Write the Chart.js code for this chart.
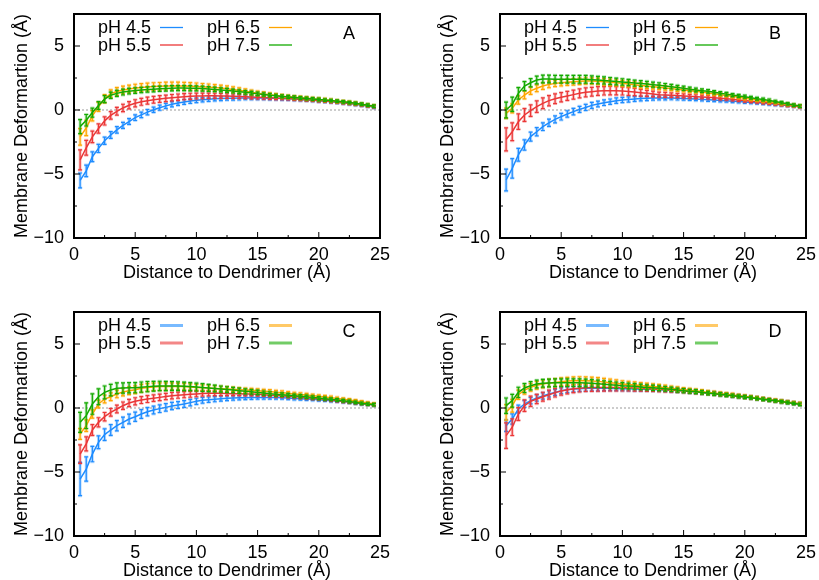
<!DOCTYPE html>
<html>
<head>
<meta charset="utf-8">
<script src="https://cdn.jsdelivr.net/npm/chart.js@4.4.1/dist/chart.umd.min.js"></script>
<style>
  html, body { margin: 0; padding: 0; background: #fff; overflow: hidden; }
  .panel { position: absolute; }
</style>
</head>
<body>
<div class="panel" style="left:0;top:0"><canvas id="chartA" width="393" height="282"></canvas></div>
<div class="panel" style="left:426px;top:0"><canvas id="chartB" width="393" height="282"></canvas></div>
<div class="panel" style="left:0;top:298px"><canvas id="chartC" width="393" height="282"></canvas></div>
<div class="panel" style="left:426px;top:298px"><canvas id="chartD" width="393" height="282"></canvas></div>
<script>
// distance bins (x) and labels
const distance = [0.5,1,1.5,2,2.5,3,3.5,4,4.5,5,
  5.5,6,6.5,7,7.5,8,8.5,9,9.5,10,
  10.5,11,11.5,12,12.5,13,13.5,14,14.5,15,
  15.5,16,16.5,17,17.5,18,18.5,19,19.5,20,
  20.5,21,21.5,22,22.5,23,23.5,24,24.5];
const phLabels = ["pH 4.5", "pH 5.5", "pH 6.5", "pH 7.5"];
const xTicks = [0, 5, 10, 15, 20, 25];
const xMinor = [2.5, 7.5, 12.5, 17.5, 22.5];
const yTicks = [-10, -5, 0, 5];
const yMinor = [-7.5, -2.5, 2.5];

// panel A
const a45 = [-5.5,-4.75,-3.65,-3.0,-2.4,-1.95,-1.55,-1.2,-0.9,-0.6,
  -0.38,-0.17,0.02,0.18,0.32,0.45,0.55,0.63,0.7,0.76,
  0.8,0.84,0.87,0.89,0.91,0.92,0.93,0.94,0.94,0.94,
  0.93,0.92,0.91,0.89,0.87,0.85,0.82,0.79,0.76,0.72,
  0.68,0.64,0.6,0.55,0.5,0.44,0.38,0.31,0.22];
const a55 = [-3.9,-2.95,-2.1,-1.45,-0.85,-0.42,-0.1,0.16,0.37,0.52,
  0.64,0.73,0.8,0.86,0.91,0.96,1.0,1.04,1.07,1.09,
  1.1,1.11,1.11,1.1,1.09,1.08,1.06,1.04,1.02,1.0,
  0.98,0.96,0.94,0.92,0.9,0.87,0.84,0.81,0.78,0.74,
  0.7,0.66,0.62,0.57,0.52,0.46,0.4,0.33,0.26];
const a65 = [-2.1,-1.4,-0.45,0.25,0.88,1.28,1.45,1.56,1.64,1.71,
  1.76,1.8,1.83,1.85,1.87,1.88,1.88,1.87,1.86,1.84,
  1.81,1.78,1.75,1.71,1.66,1.6,1.53,1.46,1.38,1.31,
  1.25,1.19,1.13,1.08,1.03,0.99,0.95,0.91,0.87,0.83,
  0.79,0.74,0.69,0.64,0.58,0.52,0.45,0.38,0.31];
const a75 = [-1.3,-0.8,-0.2,0.35,0.85,1.15,1.3,1.4,1.47,1.52,
  1.56,1.6,1.63,1.66,1.68,1.7,1.71,1.71,1.7,1.69,
  1.67,1.64,1.61,1.57,1.53,1.48,1.43,1.38,1.32,1.26,
  1.21,1.16,1.11,1.06,1.02,0.98,0.94,0.9,0.86,0.82,
  0.78,0.74,0.69,0.64,0.58,0.52,0.45,0.38,0.3];
const a45Err = [0.58,0.45,0.38,0.32,0.28,0.26,0.25,0.24,0.23,0.22,
  0.22,0.21,0.21,0.2,0.2,0.2,0.19,0.19,0.18,0.18,
  0.17,0.17,0.16,0.16,0.15,0.15,0.15,0.14,0.14,0.14,
  0.13,0.13,0.13,0.12,0.12,0.12,0.11,0.11,0.11,0.11,
  0.1,0.1,0.1,0.1,0.1,0.1,0.1,0.1,0.1];
const a55Err = [0.78,0.58,0.45,0.36,0.32,0.3,0.3,0.29,0.28,0.28,
  0.27,0.27,0.26,0.26,0.25,0.25,0.25,0.24,0.24,0.23,
  0.22,0.21,0.2,0.19,0.18,0.17,0.16,0.15,0.15,0.14,
  0.14,0.13,0.13,0.12,0.12,0.12,0.11,0.11,0.11,0.11,
  0.1,0.1,0.1,0.1,0.1,0.1,0.1,0.1,0.1];
const a65Err = [0.65,0.6,0.4,0.35,0.32,0.3,0.3,0.3,0.3,0.3,
  0.3,0.3,0.3,0.3,0.3,0.3,0.3,0.29,0.28,0.27,
  0.26,0.25,0.24,0.23,0.22,0.21,0.2,0.19,0.18,0.17,
  0.16,0.15,0.15,0.14,0.14,0.13,0.13,0.13,0.12,0.12,
  0.12,0.12,0.11,0.11,0.11,0.11,0.1,0.1,0.1];
const a75Err = [0.55,0.45,0.35,0.3,0.27,0.25,0.24,0.23,0.22,0.22,
  0.21,0.21,0.21,0.2,0.2,0.2,0.2,0.2,0.2,0.19,
  0.19,0.18,0.17,0.16,0.16,0.15,0.15,0.14,0.14,0.13,
  0.13,0.13,0.12,0.12,0.12,0.12,0.11,0.11,0.11,0.11,
  0.1,0.1,0.1,0.1,0.1,0.1,0.1,0.1,0.1];

// panel B
const b45 = [-5.47,-4.56,-3.5,-2.73,-2.08,-1.7,-1.3,-1.0,-0.73,-0.52,
  -0.31,-0.13,0.05,0.2,0.36,0.47,0.57,0.65,0.73,0.78,
  0.82,0.86,0.89,0.91,0.93,0.94,0.94,0.94,0.92,0.9,
  0.88,0.86,0.83,0.8,0.78,0.75,0.72,0.69,0.66,0.63,
  0.59,0.56,0.52,0.48,0.44,0.4,0.36,0.31,0.26];
const b55 = [-2.3,-1.7,-0.91,-0.39,-0.05,0.26,0.52,0.73,0.88,1.0,
  1.1,1.2,1.3,1.38,1.43,1.48,1.5,1.51,1.5,1.48,
  1.45,1.4,1.35,1.3,1.25,1.2,1.18,1.16,1.13,1.1,
  1.07,1.04,1.02,1.0,0.96,0.92,0.88,0.84,0.79,0.74,
  0.69,0.64,0.59,0.54,0.48,0.43,0.37,0.32,0.26];
const b65 = [-0.26,0.13,0.78,1.17,1.5,1.7,1.87,2.0,2.08,2.13,
  2.17,2.2,2.24,2.27,2.26,2.24,2.2,2.16,2.12,2.08,
  2.03,1.98,1.92,1.87,1.82,1.77,1.72,1.67,1.62,1.56,
  1.51,1.46,1.4,1.33,1.27,1.2,1.14,1.07,0.99,0.91,
  0.85,0.78,0.72,0.65,0.58,0.5,0.44,0.37,0.31];
const b75 = [0.0,0.45,1.3,1.87,2.13,2.34,2.42,2.42,2.41,2.4,
  2.4,2.4,2.4,2.4,2.37,2.34,2.31,2.27,2.23,2.19,
  2.15,2.1,2.07,2.03,1.98,1.93,1.88,1.82,1.76,1.7,
  1.63,1.56,1.51,1.46,1.38,1.3,1.24,1.17,1.1,1.04,
  0.96,0.88,0.82,0.75,0.66,0.57,0.48,0.39,0.31];
const b45Err = [0.85,0.76,0.5,0.4,0.35,0.32,0.3,0.28,0.27,0.26,
  0.25,0.25,0.24,0.24,0.23,0.22,0.22,0.21,0.21,0.2,
  0.2,0.19,0.18,0.17,0.16,0.15,0.15,0.14,0.14,0.13,
  0.13,0.13,0.12,0.12,0.12,0.12,0.11,0.11,0.11,0.11,
  0.1,0.1,0.1,0.1,0.1,0.1,0.1,0.1,0.1];
const b55Err = [0.9,0.7,0.6,0.5,0.45,0.45,0.42,0.4,0.38,0.36,
  0.35,0.35,0.35,0.35,0.34,0.34,0.33,0.33,0.32,0.31,
  0.3,0.28,0.26,0.24,0.22,0.2,0.19,0.18,0.17,0.16,
  0.15,0.15,0.14,0.14,0.13,0.13,0.12,0.12,0.12,0.12,
  0.11,0.11,0.11,0.11,0.1,0.1,0.1,0.1,0.1];
const b65Err = [0.4,0.35,0.32,0.3,0.28,0.27,0.26,0.26,0.25,0.25,
  0.25,0.25,0.25,0.25,0.25,0.25,0.25,0.25,0.24,0.24,
  0.23,0.22,0.21,0.2,0.19,0.18,0.17,0.16,0.16,0.15,
  0.15,0.14,0.14,0.13,0.13,0.13,0.12,0.12,0.12,0.12,
  0.11,0.11,0.11,0.11,0.1,0.1,0.1,0.1,0.1];
const b75Err = [0.62,0.55,0.45,0.35,0.32,0.3,0.3,0.3,0.3,0.3,
  0.3,0.3,0.3,0.3,0.3,0.29,0.28,0.27,0.26,0.25,
  0.24,0.23,0.22,0.21,0.2,0.2,0.19,0.18,0.17,0.16,
  0.15,0.15,0.14,0.14,0.13,0.13,0.13,0.12,0.12,0.12,
  0.11,0.11,0.11,0.11,0.1,0.1,0.1,0.1,0.1];

// panel C
const c45 = [-5.55,-4.77,-3.6,-2.68,-2.08,-1.72,-1.38,-1.12,-0.86,-0.68,
  -0.47,-0.29,-0.16,-0.05,0.05,0.16,0.23,0.31,0.42,0.52,
  0.6,0.65,0.69,0.73,0.76,0.78,0.8,0.81,0.82,0.83,
  0.83,0.83,0.82,0.81,0.78,0.75,0.73,0.7,0.68,0.65,
  0.61,0.57,0.54,0.5,0.45,0.39,0.34,0.3,0.26];
const c55 = [-3.6,-2.8,-1.72,-1.12,-0.68,-0.34,-0.08,0.18,0.39,0.52,
  0.62,0.7,0.77,0.83,0.9,0.96,1.0,1.04,1.07,1.1,
  1.13,1.15,1.15,1.15,1.14,1.12,1.11,1.1,1.09,1.07,
  1.04,1.0,0.97,0.94,0.91,0.88,0.85,0.81,0.77,0.73,
  0.68,0.62,0.57,0.52,0.47,0.42,0.36,0.3,0.26];
const c65 = [-2.03,-1.38,-0.47,0.31,0.7,0.88,1.1,1.25,1.35,1.43,
  1.54,1.61,1.65,1.67,1.68,1.69,1.68,1.67,1.64,1.61,
  1.58,1.56,1.53,1.5,1.48,1.46,1.43,1.4,1.38,1.35,
  1.31,1.28,1.24,1.2,1.15,1.1,1.06,1.02,0.96,0.91,
  0.86,0.81,0.74,0.68,0.62,0.55,0.47,0.39,0.31];
const c75 = [-1.12,-0.6,0.31,0.88,1.22,1.4,1.54,1.56,1.58,1.59,
  1.63,1.67,1.7,1.72,1.72,1.72,1.71,1.69,1.67,1.64,
  1.6,1.56,1.52,1.48,1.44,1.4,1.35,1.3,1.26,1.22,
  1.17,1.12,1.08,1.04,1.0,0.96,0.92,0.88,0.83,0.78,
  0.73,0.68,0.63,0.57,0.51,0.44,0.37,0.31,0.26];
const c45Err = [1.3,0.95,0.6,0.5,0.45,0.42,0.4,0.4,0.38,0.36,
  0.34,0.32,0.3,0.3,0.29,0.28,0.27,0.26,0.25,0.24,
  0.22,0.21,0.2,0.19,0.18,0.17,0.16,0.15,0.15,0.14,
  0.14,0.13,0.13,0.12,0.12,0.12,0.11,0.11,0.11,0.11,
  0.1,0.1,0.1,0.1,0.1,0.1,0.1,0.1,0.1];
const c55Err = [0.72,0.55,0.42,0.36,0.33,0.3,0.3,0.29,0.28,0.28,
  0.27,0.27,0.26,0.26,0.25,0.25,0.24,0.24,0.23,0.22,
  0.21,0.2,0.19,0.18,0.17,0.16,0.15,0.15,0.14,0.14,
  0.13,0.13,0.13,0.12,0.12,0.12,0.11,0.11,0.11,0.11,
  0.1,0.1,0.1,0.1,0.1,0.1,0.1,0.1,0.1];
const c65Err = [0.42,0.45,0.32,0.3,0.3,0.3,0.3,0.3,0.3,0.3,
  0.3,0.3,0.3,0.3,0.29,0.28,0.27,0.26,0.25,0.24,
  0.23,0.22,0.21,0.2,0.19,0.18,0.17,0.16,0.16,0.15,
  0.15,0.15,0.14,0.14,0.14,0.13,0.13,0.13,0.12,0.12,
  0.12,0.12,0.11,0.11,0.11,0.11,0.1,0.1,0.1];
const c75Err = [0.78,1.0,0.8,0.62,0.5,0.45,0.42,0.4,0.4,0.4,
  0.4,0.4,0.38,0.37,0.36,0.35,0.34,0.33,0.32,0.31,
  0.3,0.28,0.26,0.24,0.22,0.21,0.2,0.19,0.18,0.17,
  0.16,0.15,0.15,0.14,0.14,0.13,0.13,0.13,0.12,0.12,
  0.12,0.11,0.11,0.11,0.11,0.1,0.1,0.1,0.1];

// panel D
const d45 = [-1.38,-0.86,-0.08,0.31,0.57,0.78,0.94,1.1,1.22,1.35,
  1.43,1.48,1.51,1.54,1.54,1.54,1.54,1.54,1.53,1.51,
  1.5,1.48,1.47,1.46,1.45,1.43,1.41,1.38,1.36,1.33,
  1.29,1.25,1.21,1.17,1.12,1.07,1.02,0.96,0.91,0.86,
  0.81,0.75,0.69,0.62,0.56,0.5,0.44,0.37,0.31];
const d55 = [-2.16,-1.5,-0.47,0.18,0.52,0.7,0.88,1.04,1.2,1.33,
  1.43,1.51,1.55,1.59,1.6,1.61,1.61,1.61,1.6,1.59,
  1.58,1.56,1.54,1.51,1.49,1.46,1.43,1.4,1.37,1.35,
  1.3,1.26,1.22,1.18,1.13,1.08,1.03,0.97,0.92,0.87,
  0.82,0.76,0.7,0.63,0.57,0.51,0.45,0.38,0.32];
const d65 = [-0.34,0.18,1.04,1.4,1.61,1.77,1.87,1.95,2.0,2.06,
  2.1,2.13,2.14,2.13,2.11,2.08,2.03,1.98,1.93,1.87,
  1.84,1.8,1.76,1.72,1.68,1.64,1.59,1.54,1.49,1.43,
  1.38,1.33,1.28,1.22,1.17,1.12,1.07,1.02,0.95,0.89,
  0.84,0.78,0.72,0.65,0.59,0.52,0.46,0.4,0.34];
const d75 = [0.18,0.57,1.22,1.56,1.74,1.87,1.93,1.95,1.97,1.98,
  1.98,1.98,1.97,1.95,1.93,1.9,1.86,1.82,1.78,1.74,
  1.72,1.69,1.65,1.61,1.58,1.54,1.5,1.46,1.4,1.35,
  1.31,1.28,1.22,1.17,1.12,1.07,1.02,0.96,0.91,0.86,
  0.81,0.75,0.69,0.62,0.56,0.5,0.43,0.36,0.29];
const d45Err = [0.45,0.4,0.3,0.26,0.25,0.25,0.24,0.24,0.23,0.23,
  0.22,0.22,0.21,0.21,0.2,0.2,0.19,0.18,0.17,0.16,
  0.16,0.15,0.15,0.14,0.14,0.13,0.13,0.13,0.12,0.12,
  0.12,0.12,0.11,0.11,0.11,0.11,0.1,0.1,0.1,0.1,
  0.1,0.1,0.1,0.1,0.1,0.1,0.1,0.1,0.1];
const d55Err = [1.0,0.65,0.5,0.45,0.4,0.36,0.35,0.35,0.34,0.33,
  0.32,0.31,0.3,0.3,0.3,0.3,0.29,0.28,0.27,0.26,
  0.25,0.24,0.22,0.21,0.2,0.19,0.18,0.17,0.16,0.15,
  0.15,0.14,0.14,0.13,0.13,0.13,0.12,0.12,0.12,0.12,
  0.11,0.11,0.11,0.11,0.1,0.1,0.1,0.1,0.1];
const d65Err = [0.6,0.5,0.36,0.32,0.3,0.3,0.3,0.3,0.3,0.3,
  0.3,0.3,0.3,0.3,0.3,0.3,0.29,0.28,0.27,0.26,
  0.25,0.24,0.23,0.22,0.21,0.2,0.19,0.18,0.17,0.16,
  0.16,0.15,0.15,0.14,0.14,0.13,0.13,0.13,0.12,0.12,
  0.12,0.12,0.11,0.11,0.11,0.11,0.1,0.1,0.1];
const d75Err = [0.6,0.5,0.4,0.35,0.32,0.3,0.3,0.3,0.3,0.3,
  0.3,0.3,0.3,0.3,0.29,0.28,0.27,0.26,0.25,0.24,
  0.23,0.22,0.21,0.2,0.2,0.19,0.18,0.17,0.16,0.16,
  0.15,0.15,0.14,0.14,0.13,0.13,0.13,0.12,0.12,0.12,
  0.11,0.11,0.11,0.11,0.1,0.1,0.1,0.1,0.1];

const colors = ["rgb(30,140,255)", "rgb(235,55,55)", "rgb(255,165,0)", "rgb(20,170,0)"];
const FONT = '"Liberation Sans", Arial, sans-serif';

Chart.defaults.font.family = FONT;
Chart.defaults.font.size = 18;
Chart.defaults.color = "#000";

// gnuplot look: dotted zero line, error bars, frame, inward tics, key, panel letter
const gnuplotLook = {
  id: "gnuplotLook",
  beforeDatasetsDraw(chart) {
    const { ctx, chartArea: ca, scales: { y } } = chart;
    const y0 = y.getPixelForValue(0);
    ctx.save();
    ctx.strokeStyle = "#999";
    ctx.lineWidth = 1;
    ctx.setLineDash([2, 2]);
    ctx.beginPath();
    ctx.moveTo(ca.left, y0);
    ctx.lineTo(ca.right, y0);
    ctx.stroke();
    ctx.restore();
  },
  afterDatasetDraw(chart, args) {
    const ds = chart.data.datasets[args.index];
    const { ctx, scales: { x, y } } = chart;
    ctx.save();
    ctx.strokeStyle = ds.borderColor;
    [[3, 0.3], [1.2, 1]].forEach(([w, a]) => {
      ctx.lineWidth = w;
      ctx.globalAlpha = a;
      ctx.beginPath();
      ds.data.forEach((p, i) => {
        const px = x.getPixelForValue(p.x);
        const top = y.getPixelForValue(p.y + ds.err[i]);
        const bot = y.getPixelForValue(p.y - ds.err[i]);
        ctx.moveTo(px, top); ctx.lineTo(px, bot);
        ctx.moveTo(px - 2, top); ctx.lineTo(px + 2, top);
        ctx.moveTo(px - 2, bot); ctx.lineTo(px + 2, bot);
      });
      ctx.stroke();
    });
    ctx.restore();
  },
  afterDraw(chart, args, opts) {
    const { ctx, chartArea: ca, scales: { x, y } } = chart;
    ctx.save();
    // tics
    ctx.strokeStyle = "#000";
    ctx.lineWidth = 1;
    ctx.beginPath();
    yTicks.forEach(v => { const py = y.getPixelForValue(v); ctx.moveTo(ca.left, py); ctx.lineTo(ca.left + 6, py); });
    yMinor.forEach(v => { const py = y.getPixelForValue(v); ctx.moveTo(ca.left, py); ctx.lineTo(ca.left + 3, py); });
    xTicks.forEach(v => { const px = x.getPixelForValue(v); ctx.moveTo(px, ca.bottom); ctx.lineTo(px, ca.bottom - 6); });
    xMinor.forEach(v => { const px = x.getPixelForValue(v); ctx.moveTo(px, ca.bottom); ctx.lineTo(px, ca.bottom - 3); });
    ctx.stroke();
    // frame
    ctx.lineWidth = 2;
    ctx.strokeRect(ca.left, ca.top, ca.right - ca.left, ca.bottom - ca.top);
    // key
    ctx.font = "18px " + FONT;
    ctx.fillStyle = "#000";
    ctx.textAlign = "left";
    ctx.textBaseline = "alphabetic";
    chart.data.datasets.forEach((ds, i) => {
      const col = Math.floor(i / 2), row = i % 2;
      const by = ca.top + 19 + row * 17.5;
      ctx.fillText(ds.label, ca.left + 24 + col * 109, by);
      const lx = ca.left + 86 + col * 109;
      ctx.save();
      ctx.strokeStyle = ds.borderColor;
      ctx.lineWidth = opts.keyWidth;
      ctx.globalAlpha = opts.keyAlpha;
      ctx.beginPath();
      ctx.moveTo(lx, by - 5.5);
      ctx.lineTo(lx + 23, by - 5.5);
      ctx.stroke();
      ctx.restore();
    });
    // panel letter
    ctx.textAlign = "center";
    ctx.fillText(opts.letter, ca.left + 275, ca.top + 25);
    ctx.restore();
  }
};

function makePanel(id, letter, series, errs, keyWidth, keyAlpha) {
  const datasets = series.map((vals, i) => ({
    label: phLabels[i],
    data: distance.map((d, j) => ({ x: d, y: vals[j] })),
    err: errs[i],
    borderColor: colors[i],
    borderWidth: 1.5,
    pointRadius: 0,
    tension: 0,
    fill: false,
    order: 4 - i
  }));
  return new Chart(document.getElementById(id), {
    type: "line",
    data: { datasets: datasets },
    plugins: [gnuplotLook],
    options: {
      responsive: false,
      animation: false,
      layout: { padding: { left: 0, top: 14, right: 13, bottom: 0 } },
      plugins: {
        legend: { display: false },
        tooltip: { enabled: false },
        gnuplotLook: { letter: letter, keyWidth: keyWidth, keyAlpha: keyAlpha }
      },
      scales: {
        x: {
          type: "linear", min: 0, max: 25,
          grid: { display: false, drawTicks: false },
          border: { display: false },
          ticks: { padding: 6, maxRotation: 0, autoSkip: false, font: { size: 18 } },
          afterBuildTicks: a => { a.ticks = xTicks.map(v => ({ value: v })); },
          afterFit: a => { a.height = 44; a.paddingLeft = 0; a.paddingRight = 0; },
          title: { display: true, text: "Distance to Dendrimer (Å)", font: { size: 18, lineHeight: 1 }, padding: 0 }
        },
        y: {
          type: "linear", min: -10, max: 7.5,
          grid: { display: false, drawTicks: false },
          border: { display: false },
          ticks: { padding: 10, font: { size: 18 }, callback: v => String(v).replace("-", "\u2212") },
          afterBuildTicks: a => { a.ticks = yTicks.map(v => ({ value: v })); },
          afterFit: a => { a.width = 74; a.paddingTop = 0; a.paddingBottom = 0; },
          title: { display: true, text: "Membrane Deformartion (Å)", font: { size: 18, lineHeight: 1 }, padding: { top: 13, bottom: 0 } }
        }
      }
    }
  });
}

makePanel("chartA", "A", [a45, a55, a65, a75], [a45Err, a55Err, a65Err, a75Err], 1.3, 1);
makePanel("chartB", "B", [b45, b55, b65, b75], [b45Err, b55Err, b65Err, b75Err], 1.3, 1);
makePanel("chartC", "C", [c45, c55, c65, c75], [c45Err, c55Err, c65Err, c75Err], 3, 0.6);
makePanel("chartD", "D", [d45, d55, d65, d75], [d45Err, d55Err, d65Err, d75Err], 3, 0.6);
</script>
</body>
</html>
